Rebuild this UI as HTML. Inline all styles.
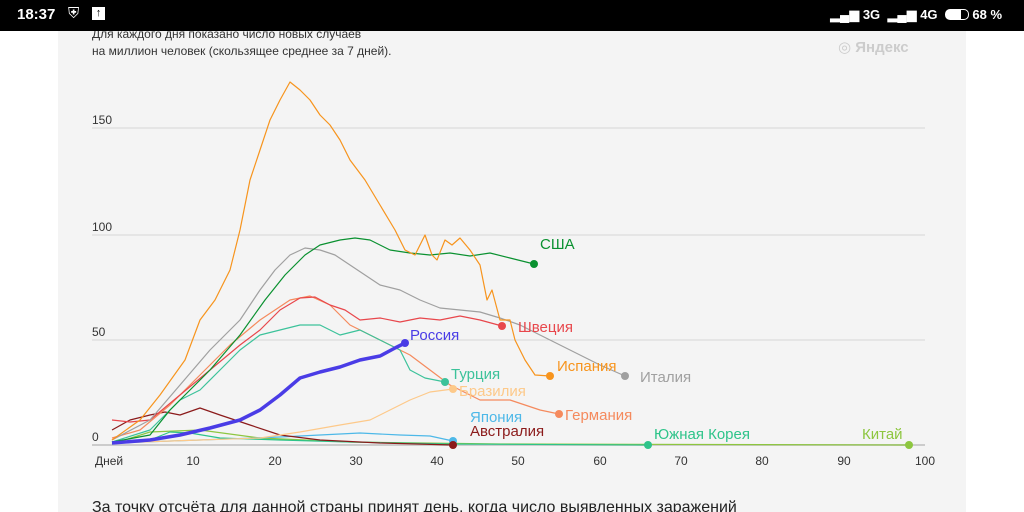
<!DOCTYPE html>
<html><head><meta charset="utf-8"><style>
body{margin:0;width:1024px;height:512px;overflow:hidden;background:#fff;font-family:"Liberation Sans","DejaVu Sans",sans-serif;position:relative}
.sb{position:absolute;left:0;top:0;width:1024px;height:31px;background:#000;color:#fff;font-size:15px}
.panel{position:absolute;left:58px;top:31px;width:908px;height:481px;background:#f4f4f4}
svg{position:absolute;left:0;top:0}
</style></head><body>
<div class="panel"></div>
<svg width="1024" height="512" font-family="Liberation Sans, DejaVu Sans, sans-serif">
<text x="92" y="38" font-size="12" fill="#333">Для каждого дня показано число новых случаев</text>
<text x="92" y="55" font-size="12" fill="#333">на миллион человек (скользящее среднее за 7 дней).</text>
<text x="838" y="52" font-size="15" fill="#ccc" font-weight="bold">◎ Яндекс</text>
<g stroke="#d6d6d6" stroke-width="1">
<line x1="92" y1="128" x2="925" y2="128"/><line x1="92" y1="235" x2="925" y2="235"/>
<line x1="92" y1="340" x2="925" y2="340"/><line x1="92" y1="445" x2="925" y2="445" stroke="#ccc" stroke-width="2"/>
</g>
<g font-size="12" fill="#333">
<text x="92" y="124">150</text><text x="92" y="231">100</text><text x="92" y="336">50</text><text x="92" y="441">0</text>
<text x="95" y="465">Дней</text>
<g text-anchor="middle"><text x="193" y="465">10</text><text x="275" y="465">20</text><text x="356" y="465">30</text><text x="437" y="465">40</text><text x="518" y="465">50</text><text x="600" y="465">60</text><text x="681" y="465">70</text><text x="762" y="465">80</text><text x="844" y="465">90</text><text x="925" y="465">100</text></g>
</g>
<g fill="none" stroke-width="1.2" stroke-linejoin="round">
<polyline stroke="#8dc63f" points="112,444 150,432 200,430 260,438 350,442 500,444 909,445"/>
<polyline stroke="#2ec48a" points="112,444 150,440 170,432 190,433 220,438 280,440 350,442 450,444 648,445"/>
<polyline stroke="#4db8e8" points="112,443 200,440 280,437 320,435 360,433 400,435 430,436 453,441"/>
<polyline stroke="#8b1a1a" points="112,430 130,420 150,415 165,412 180,415 200,408 220,415 250,425 280,435 320,440 380,443 453,445"/>
<polyline stroke="#fdc98a" points="112,443 200,440 260,438 300,432 340,425 370,420 390,410 410,400 430,392 453,389"/>
<polyline stroke="#f58a5d" points="112,438 140,430 170,405 200,375 230,345 260,320 290,300 310,296 330,305 350,325 370,335 390,345 410,355 430,370 450,385 480,400 510,400 540,410 559,414"/>
<polyline stroke="#3cc29a" points="112,442 150,430 180,400 200,390 220,370 240,350 260,335 280,330 300,325 320,325 340,335 360,330 380,340 400,350 410,370 425,378 445,382"/>
<polyline stroke="#e8474c" points="112,420 130,422 150,420 180,395 210,370 240,345 260,330 280,310 300,298 315,297 330,305 345,310 360,320 380,318 400,322 420,318 440,320 460,316 480,320 502,326"/>
<polyline stroke="#a0a0a0" points="112,440 150,420 180,385 210,350 240,320 260,290 275,270 290,255 305,248 320,250 335,255 350,265 365,275 380,285 400,290 420,300 440,308 460,310 480,312 500,318 520,325 540,335 560,345 580,355 600,365 625,376"/>
<polyline stroke="#0a9130" points="112,442 150,435 170,410 190,390 210,370 240,335 265,300 285,275 305,255 320,245 340,240 355,238 370,240 390,250 410,253 430,255 450,253 470,256 490,253 510,258 534,264"/>
<polyline stroke="#f7941d" points="112,440 140,420 160,395 185,360 200,320 215,300 230,270 240,230 250,180 260,150 270,120 280,100 290,82 300,90 310,100 320,115 330,125 340,140 350,160 365,180 380,205 395,230 405,250 415,255 425,235 432,255 437,260 445,240 452,245 460,238 470,250 480,265 487,300 492,290 500,320 510,320 515,340 525,360 535,375 550,376"/>
<polyline stroke="#4a3ce6" stroke-width="3.5" points="112,443 150,440 180,435 210,428 240,420 260,410 280,395 300,378 320,372 340,367 360,360 380,356 395,348 405,343"/>
</g>
<g>
<circle cx="534" cy="264" r="4" fill="#0a9130"/><circle cx="502" cy="326" r="4" fill="#e8474c"/>
<circle cx="405" cy="343" r="4" fill="#4a3ce6"/><circle cx="550" cy="376" r="4" fill="#f7941d"/>
<circle cx="625" cy="376" r="4" fill="#a0a0a0"/><circle cx="445" cy="382" r="4" fill="#3cc29a"/>
<circle cx="453" cy="389" r="4" fill="#fdc98a"/><circle cx="559" cy="414" r="4" fill="#f58a5d"/>
<circle cx="453" cy="441" r="4" fill="#4db8e8"/><circle cx="453" cy="445" r="4" fill="#8b1a1a"/>
<circle cx="648" cy="445" r="4" fill="#2ec48a"/><circle cx="909" cy="445" r="4" fill="#8dc63f"/>
</g>
<g font-size="15">
<text x="540" y="249" fill="#0a9130">США</text><text x="518" y="332" fill="#e8474c">Швеция</text>
<text x="410" y="340" fill="#4a3ce6">Россия</text><text x="557" y="371" fill="#f7941d">Испания</text>
<text x="640" y="382" fill="#a0a0a0">Италия</text><text x="451" y="379" fill="#3cc29a">Турция</text>
<text x="459" y="396" fill="#fdc98a">Бразилия</text><text x="470" y="422" fill="#4db8e8">Япония</text>
<text x="565" y="420" fill="#f58a5d">Германия</text><text x="470" y="436" fill="#8b1a1a">Австралия</text>
<text x="654" y="439" fill="#2ec48a">Южная Корея</text><text x="862" y="439" fill="#8dc63f">Китай</text>
</g>
<text x="92" y="512" font-size="16" fill="#222">За точку отсчёта для данной страны принят день, когда число выявленных заражений</text>
</svg>
<div class="sb"><span style="position:absolute;left:17px;top:6px;font-weight:bold">18:37</span>
<span style="position:absolute;left:68px;top:5px">⛨</span><span style="position:absolute;left:92px;top:7px;width:13px;height:13px;background:#fff;color:#000;font-size:11px;text-align:center;line-height:13px;font-weight:bold">↑</span>
<span style="position:absolute;left:830px;top:7px;font-size:13px;font-weight:bold">▂▄▆ 3G &nbsp;▂▄▆ 4G &nbsp;<span style="display:inline-block;width:22px;height:9px;border:1.5px solid #fff;border-radius:5px;vertical-align:-1px;background:linear-gradient(90deg,#fff 68%,#000 68%)"></span> 68 %</span></div>
</body></html>
